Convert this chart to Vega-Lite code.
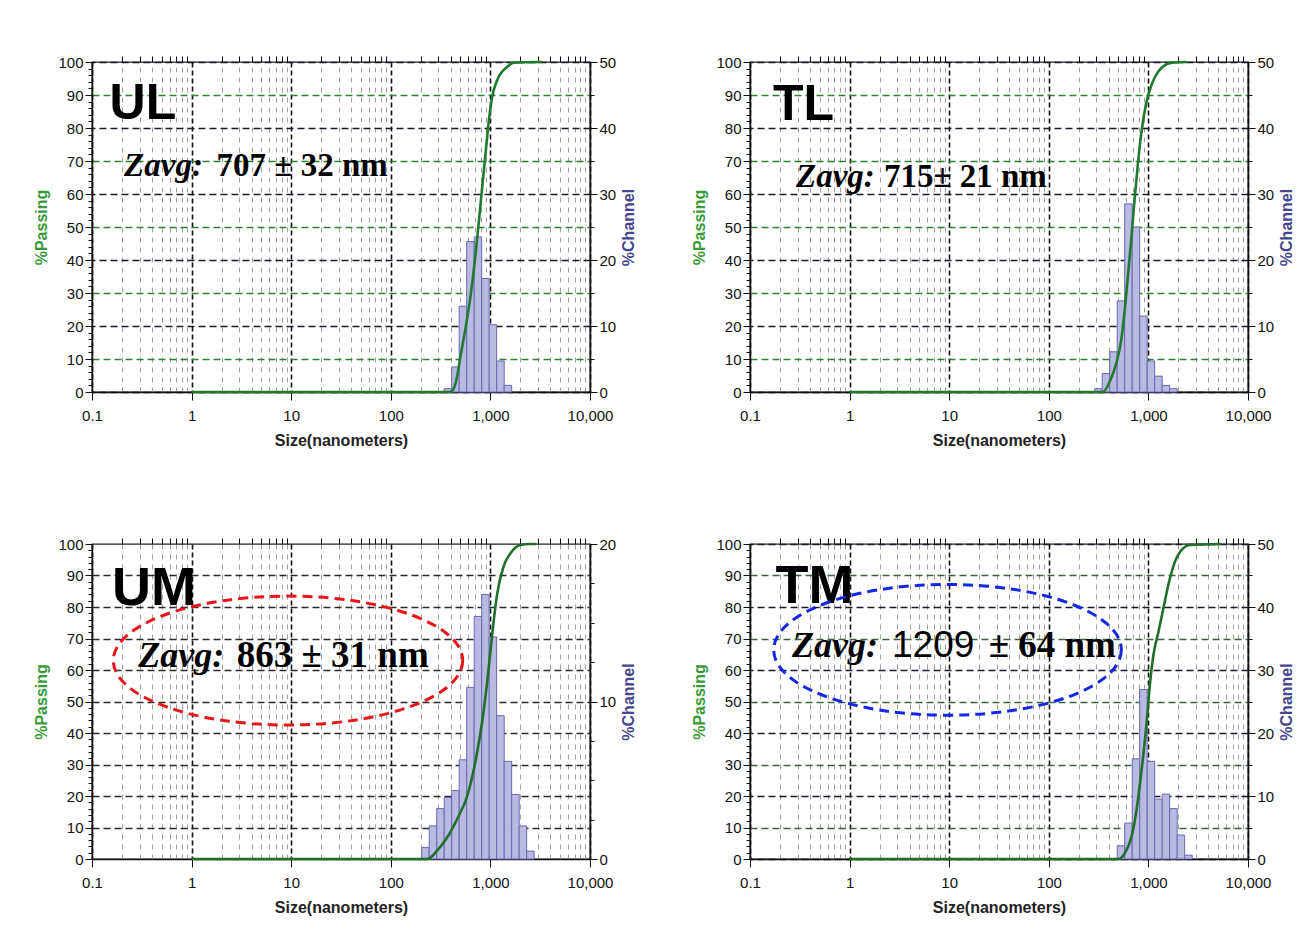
{
  "$schema": "https://vega.github.io/schema/vega-lite/v6.json",
  "background": "white",
  "padding": {"left": 33, "top": 54, "right": 5, "bottom": 5},
  "config": {
    "view": {"stroke": "#222", "strokeWidth": 1.3},
    "axis": {"labelFont": "Liberation Sans", "labelFontSize": 15, "labelColor": "#111", "domainColor": "#111", "domainWidth": 1.5, "tickColor": "#111", "titleFont": "Liberation Sans", "labelFlush": false, "labelOverlap": false}
  },
  "datasets": {
    "ul_bars": [
      {"lo": 343.7, "hi": 408.8, "ch": 0.5}, {"lo": 408.8, "hi": 486.1, "ch": 3.8}, {"lo": 486.1, "hi": 578.1, "ch": 13.0},
      {"lo": 578.1, "hi": 687.5, "ch": 22.8}, {"lo": 687.5, "hi": 817.6, "ch": 23.5}, {"lo": 817.6, "hi": 972.3, "ch": 17.2},
      {"lo": 972.3, "hi": 1156, "ch": 10.2}, {"lo": 1156, "hi": 1375, "ch": 4.7}, {"lo": 1375, "hi": 1635, "ch": 1.0}
    ],
    "ul_cum": [
      {"d": 1, "p": 0}, {"d": 400, "p": 0}, {"d": 450, "p": 3}, {"d": 500, "p": 10.7}, {"d": 574, "p": 20.9}, {"d": 645, "p": 31.1},
      {"d": 707, "p": 41.3}, {"d": 765, "p": 51.5}, {"d": 825, "p": 61.7}, {"d": 891, "p": 71.9}, {"d": 964, "p": 82.1},
      {"d": 1040, "p": 89.3}, {"d": 1167, "p": 94.4}, {"d": 1471, "p": 98.5}, {"d": 1717, "p": 99.8}, {"d": 3300, "p": 100}
    ],
    "tl_bars": [
      {"lo": 289.0, "hi": 343.7, "ch": 0.5}, {"lo": 343.7, "hi": 408.8, "ch": 2.8}, {"lo": 408.8, "hi": 486.1, "ch": 6.1},
      {"lo": 486.1, "hi": 578.1, "ch": 13.8}, {"lo": 578.1, "hi": 687.5, "ch": 28.5}, {"lo": 687.5, "hi": 817.6, "ch": 25.0},
      {"lo": 817.6, "hi": 972.3, "ch": 11.5}, {"lo": 972.3, "hi": 1156, "ch": 4.7}, {"lo": 1156, "hi": 1375, "ch": 2.4},
      {"lo": 1375, "hi": 1635, "ch": 1.0}, {"lo": 1635, "hi": 1945, "ch": 0.5}
    ],
    "tl_cum": [
      {"d": 1, "p": 0}, {"d": 350, "p": 0}, {"d": 407, "p": 3}, {"d": 476, "p": 8.7}, {"d": 534, "p": 15.8}, {"d": 575, "p": 24},
      {"d": 622, "p": 35}, {"d": 672, "p": 46}, {"d": 725, "p": 58}, {"d": 783, "p": 69}, {"d": 845, "p": 78}, {"d": 942, "p": 87},
      {"d": 1072, "p": 93}, {"d": 1250, "p": 97}, {"d": 1514, "p": 99.3}, {"d": 1770, "p": 99.8}, {"d": 2400, "p": 100}
    ],
    "um_bars": [
      {"lo": 204.4, "hi": 243.1, "ch": 0.74}, {"lo": 243.1, "hi": 289.0, "ch": 2.1}, {"lo": 289.0, "hi": 343.7, "ch": 3.2},
      {"lo": 343.7, "hi": 408.8, "ch": 3.9}, {"lo": 408.8, "hi": 486.1, "ch": 4.35}, {"lo": 486.1, "hi": 578.1, "ch": 6.3},
      {"lo": 578.1, "hi": 687.5, "ch": 10.9}, {"lo": 687.5, "hi": 817.6, "ch": 15.4}, {"lo": 817.6, "hi": 972.3, "ch": 16.8},
      {"lo": 972.3, "hi": 1156, "ch": 14.1}, {"lo": 1156, "hi": 1375, "ch": 9.1}, {"lo": 1375, "hi": 1635, "ch": 6.2},
      {"lo": 1635, "hi": 1945, "ch": 4.1}, {"lo": 1945, "hi": 2312, "ch": 2.1}, {"lo": 2312, "hi": 2750, "ch": 0.5}
    ],
    "um_cum": [
      {"d": 1, "p": 0}, {"d": 233, "p": 0}, {"d": 293, "p": 2.7}, {"d": 369, "p": 6.9}, {"d": 464, "p": 12.7}, {"d": 585, "p": 20},
      {"d": 708, "p": 31}, {"d": 826, "p": 43.5}, {"d": 927, "p": 56}, {"d": 1040, "p": 71}, {"d": 1167, "p": 84},
      {"d": 1359, "p": 93}, {"d": 1585, "p": 97}, {"d": 1995, "p": 99.7}, {"d": 2512, "p": 100}, {"d": 2900, "p": 100}
    ],
    "tm_bars": [
      {"lo": 486.1, "hi": 578.1, "ch": 2.1}, {"lo": 578.1, "hi": 687.5, "ch": 5.7}, {"lo": 687.5, "hi": 817.6, "ch": 15.9},
      {"lo": 817.6, "hi": 972.3, "ch": 26.9}, {"lo": 972.3, "hi": 1156, "ch": 15.5}, {"lo": 1156, "hi": 1375, "ch": 9.5},
      {"lo": 1375, "hi": 1635, "ch": 10.3}, {"lo": 1635, "hi": 1945, "ch": 8.0}, {"lo": 1945, "hi": 2312, "ch": 3.8},
      {"lo": 2312, "hi": 2750, "ch": 0.6}
    ],
    "tm_cum": [
      {"d": 1, "p": 0}, {"d": 501, "p": 0}, {"d": 584, "p": 2}, {"d": 681, "p": 7.4}, {"d": 764, "p": 16}, {"d": 857, "p": 28.6},
      {"d": 962, "p": 43.5}, {"d": 1039, "p": 56}, {"d": 1122, "p": 64.7}, {"d": 1259, "p": 72}, {"d": 1413, "p": 79.5},
      {"d": 1585, "p": 87}, {"d": 1849, "p": 94.4}, {"d": 2228, "p": 98.6}, {"d": 2606, "p": 99.7}, {"d": 5400, "p": 100}
    ]
  },
  "concat": [
    {
      "width": 498, "height": 330,
      "resolve": {"scale": {"y": "independent"}, "axis": {"x": "independent", "y": "independent"}},
      "layer": [
        {
          "data": {"name": "ul_bars"},
          "mark": {"type": "bar", "fill": "#b9b9e2", "stroke": "#6868b2", "strokeWidth": 1},
          "encoding": {
            "x": {"field": "lo", "type": "quantitative", "scale": {"type": "log", "domain": [0.1, 10000], "nice": false},
              "axis": {"values": [0.1, 1, 10, 100, 1000, 10000], "format": ",", "grid": true, "gridColor": "#111", "gridDash": [5, 3], "gridWidth": 1.6, "tickSize": 8, "labelPadding": 8, "title": "Size(nanometers)", "titleFontSize": 16, "titleFontWeight": "bold", "titlePadding": 9, "titleColor": "#222"}},
            "x2": {"field": "hi"},
            "y": {"field": "ch", "type": "quantitative", "scale": {"domain": [0, 50], "nice": false},
              "axis": {"orient": "right", "values": [0, 10, 20, 30, 40, 50], "grid": true, "gridColor": "#1a1a2a", "gridDash": [7, 4], "gridWidth": 1.6, "tickSize": 7, "labelPadding": 2, "title": "%Channel", "titleAngle": 270, "titleBaseline": "top", "titleColor": "#45458f", "titleFontSize": 16, "titleFontWeight": "bold", "titlePadding": 5}},
            "y2": {"datum": 0}
          }
        },
        {
          "data": {"name": "ul_cum"},
          "mark": {"type": "line", "color": "#1f7a2e", "strokeWidth": 2.6, "interpolate": "monotone"},
          "encoding": {
            "x": {"field": "d", "type": "quantitative", "scale": {"type": "log", "domain": [0.1, 10000], "nice": false},
              "axis": {"values": [0.2, 0.3, 0.4, 0.5, 0.6, 0.7, 0.8, 0.9, 2, 3, 4, 5, 6, 7, 8, 9, 20, 30, 40, 50, 60, 70, 80, 90, 200, 300, 400, 500, 600, 700, 800, 900, 2000, 3000, 4000, 5000, 6000, 7000, 8000, 9000], "grid": true, "gridColor": "#a0a0a0", "gridDash": [5, 5], "gridWidth": 1, "labels": false, "domain": false, "tickSize": 6, "title": null}},
            "y": {"field": "p", "type": "quantitative", "scale": {"domain": [0, 100], "nice": false},
              "axis": {"orient": "left", "values": [0, 10, 20, 30, 40, 50, 60, 70, 80, 90, 100], "grid": false, "tickSize": 7, "labelPadding": 2, "title": "%Passing", "titleColor": "#3a9a3a", "titleFontSize": 16, "titleFontWeight": "bold", "titlePadding": 8}}
          }
        },
        {
          "data": {"values": [{"t": "UL"}]},
          "mark": {"type": "text", "align": "left", "baseline": "alphabetic", "font": "Liberation Sans", "fontWeight": "bold", "fontSize": 50, "color": "#000"},
          "encoding": {
            "x": {"datum": 0.15, "type": "quantitative", "scale": {"type": "log", "domain": [0.1, 10000], "nice": false}, "axis": null},
            "y": {"datum": 82.7, "type": "quantitative", "scale": {"domain": [0, 100], "nice": false},
              "axis": {"orient": "left", "values": [10, 30, 50, 70, 90], "grid": true, "gridColor": "#2f802f", "gridDash": [7, 4], "gridWidth": 1.6, "ticks": false, "labels": false, "domain": false, "title": null}},
            "text": {"field": "t"}
          }
        },
        {
          "data": {"values": [{"t": "Zavg:"}]},
          "mark": {"type": "text", "align": "left", "baseline": "alphabetic", "font": "Liberation Serif", "fontWeight": "bold", "fontStyle": "italic", "fontSize": 33, "color": "#000"},
          "encoding": {
            "x": {"datum": 0.21, "type": "quantitative", "scale": {"type": "log", "domain": [0.1, 10000], "nice": false}, "axis": null},
            "y": {"datum": 65.5, "type": "quantitative", "scale": {"domain": [0, 100], "nice": false},
              "axis": {"orient": "left", "values": [0, 2, 4, 6, 8, 10, 12, 14, 16, 18, 20, 22, 24, 26, 28, 30, 32, 34, 36, 38, 40, 42, 44, 46, 48, 50, 52, 54, 56, 58, 60, 62, 64, 66, 68, 70, 72, 74, 76, 78, 80, 82, 84, 86, 88, 90, 92, 94, 96, 98, 100], "grid": false, "labels": false, "domain": false, "tickSize": 4, "title": null}},
            "text": {"field": "t"}
          }
        },
        {
          "data": {"values": [{"t": "707 ± 32 nm"}]},
          "mark": {"type": "text", "align": "left", "baseline": "alphabetic", "font": "Liberation Serif", "fontWeight": "bold", "fontSize": 33, "color": "#000"},
          "encoding": {
            "x": {"datum": 1.78, "type": "quantitative", "scale": {"type": "log", "domain": [0.1, 10000], "nice": false}, "axis": null},
            "y": {"datum": 32.75, "type": "quantitative", "scale": {"domain": [0, 50], "nice": false},
              "axis": {"orient": "right", "values": [5, 15, 25, 35, 45], "grid": false, "labels": false, "domain": false, "tickSize": 4, "title": null}},
            "text": {"field": "t"}
          }
        }
      ]
    },
    {
      "width": 498, "height": 330,
      "resolve": {"scale": {"y": "independent"}, "axis": {"x": "independent", "y": "independent"}},
      "layer": [
        {
          "data": {"name": "tl_bars"},
          "mark": {"type": "bar", "fill": "#b9b9e2", "stroke": "#6868b2", "strokeWidth": 1},
          "encoding": {
            "x": {"field": "lo", "type": "quantitative", "scale": {"type": "log", "domain": [0.1, 10000], "nice": false},
              "axis": {"values": [0.1, 1, 10, 100, 1000, 10000], "format": ",", "grid": true, "gridColor": "#111", "gridDash": [5, 3], "gridWidth": 1.6, "tickSize": 8, "labelPadding": 8, "title": "Size(nanometers)", "titleFontSize": 16, "titleFontWeight": "bold", "titlePadding": 9, "titleColor": "#222"}},
            "x2": {"field": "hi"},
            "y": {"field": "ch", "type": "quantitative", "scale": {"domain": [0, 50], "nice": false},
              "axis": {"orient": "right", "values": [0, 10, 20, 30, 40, 50], "grid": true, "gridColor": "#1a1a2a", "gridDash": [7, 4], "gridWidth": 1.6, "tickSize": 7, "labelPadding": 2, "title": "%Channel", "titleAngle": 270, "titleBaseline": "top", "titleColor": "#45458f", "titleFontSize": 16, "titleFontWeight": "bold", "titlePadding": 5}},
            "y2": {"datum": 0}
          }
        },
        {
          "data": {"name": "tl_cum"},
          "mark": {"type": "line", "color": "#1f7a2e", "strokeWidth": 2.6, "interpolate": "monotone"},
          "encoding": {
            "x": {"field": "d", "type": "quantitative", "scale": {"type": "log", "domain": [0.1, 10000], "nice": false},
              "axis": {"values": [0.2, 0.3, 0.4, 0.5, 0.6, 0.7, 0.8, 0.9, 2, 3, 4, 5, 6, 7, 8, 9, 20, 30, 40, 50, 60, 70, 80, 90, 200, 300, 400, 500, 600, 700, 800, 900, 2000, 3000, 4000, 5000, 6000, 7000, 8000, 9000], "grid": true, "gridColor": "#a0a0a0", "gridDash": [5, 5], "gridWidth": 1, "labels": false, "domain": false, "tickSize": 6, "title": null}},
            "y": {"field": "p", "type": "quantitative", "scale": {"domain": [0, 100], "nice": false},
              "axis": {"orient": "left", "values": [0, 10, 20, 30, 40, 50, 60, 70, 80, 90, 100], "grid": false, "tickSize": 7, "labelPadding": 2, "title": "%Passing", "titleColor": "#3a9a3a", "titleFontSize": 16, "titleFontWeight": "bold", "titlePadding": 8}}
          }
        },
        {
          "data": {"values": [{"t": "TL"}]},
          "mark": {"type": "text", "align": "left", "baseline": "alphabetic", "font": "Liberation Sans", "fontWeight": "bold", "fontSize": 50, "color": "#000"},
          "encoding": {
            "x": {"datum": 0.17, "type": "quantitative", "scale": {"type": "log", "domain": [0.1, 10000], "nice": false}, "axis": null},
            "y": {"datum": 82.4, "type": "quantitative", "scale": {"domain": [0, 100], "nice": false},
              "axis": {"orient": "left", "values": [10, 30, 50, 70, 90], "grid": true, "gridColor": "#2f802f", "gridDash": [7, 4], "gridWidth": 1.6, "ticks": false, "labels": false, "domain": false, "title": null}},
            "text": {"field": "t"}
          }
        },
        {
          "data": {"values": [{"t": "Zavg:"}]},
          "mark": {"type": "text", "align": "left", "baseline": "alphabetic", "font": "Liberation Serif", "fontWeight": "bold", "fontStyle": "italic", "fontSize": 33, "color": "#000"},
          "encoding": {
            "x": {"datum": 0.29, "type": "quantitative", "scale": {"type": "log", "domain": [0.1, 10000], "nice": false}, "axis": null},
            "y": {"datum": 62, "type": "quantitative", "scale": {"domain": [0, 100], "nice": false},
              "axis": {"orient": "left", "values": [0, 2, 4, 6, 8, 10, 12, 14, 16, 18, 20, 22, 24, 26, 28, 30, 32, 34, 36, 38, 40, 42, 44, 46, 48, 50, 52, 54, 56, 58, 60, 62, 64, 66, 68, 70, 72, 74, 76, 78, 80, 82, 84, 86, 88, 90, 92, 94, 96, 98, 100], "grid": false, "labels": false, "domain": false, "tickSize": 4, "title": null}},
            "text": {"field": "t"}
          }
        },
        {
          "data": {"values": [{"t": "715± 21 nm"}]},
          "mark": {"type": "text", "align": "left", "baseline": "alphabetic", "font": "Liberation Serif", "fontWeight": "bold", "fontSize": 33, "color": "#000"},
          "encoding": {
            "x": {"datum": 2.21, "type": "quantitative", "scale": {"type": "log", "domain": [0.1, 10000], "nice": false}, "axis": null},
            "y": {"datum": 31, "type": "quantitative", "scale": {"domain": [0, 50], "nice": false},
              "axis": {"orient": "right", "values": [5, 15, 25, 35, 45], "grid": false, "labels": false, "domain": false, "tickSize": 4, "title": null}},
            "text": {"field": "t"}
          }
        }
      ]
    },
    {
      "width": 498, "height": 315,
      "resolve": {"scale": {"y": "independent"}, "axis": {"x": "independent", "y": "independent"}},
      "layer": [
        {
          "data": {"name": "um_bars"},
          "mark": {"type": "bar", "fill": "#b9b9e2", "stroke": "#6868b2", "strokeWidth": 1},
          "encoding": {
            "x": {"field": "lo", "type": "quantitative", "scale": {"type": "log", "domain": [0.1, 10000], "nice": false},
              "axis": {"values": [0.1, 1, 10, 100, 1000, 10000], "format": ",", "grid": true, "gridColor": "#111", "gridDash": [5, 3], "gridWidth": 1.6, "tickSize": 8, "labelPadding": 8, "title": "Size(nanometers)", "titleFontSize": 16, "titleFontWeight": "bold", "titlePadding": 9, "titleColor": "#222"}},
            "x2": {"field": "hi"},
            "y": {"field": "ch", "type": "quantitative", "scale": {"domain": [0, 20], "nice": false},
              "axis": {"orient": "right", "values": [0, 10, 20], "grid": false, "tickSize": 7, "labelPadding": 2, "title": "%Channel", "titleAngle": 270, "titleBaseline": "top", "titleColor": "#45458f", "titleFontSize": 16, "titleFontWeight": "bold", "titlePadding": 5}},
            "y2": {"datum": 0}
          }
        },
        {
          "data": {"name": "um_cum"},
          "mark": {"type": "line", "color": "#1f6e2a", "strokeWidth": 2.6, "interpolate": "monotone"},
          "encoding": {
            "x": {"field": "d", "type": "quantitative", "scale": {"type": "log", "domain": [0.1, 10000], "nice": false},
              "axis": {"values": [0.2, 0.3, 0.4, 0.5, 0.6, 0.7, 0.8, 0.9, 2, 3, 4, 5, 6, 7, 8, 9, 20, 30, 40, 50, 60, 70, 80, 90, 200, 300, 400, 500, 600, 700, 800, 900, 2000, 3000, 4000, 5000, 6000, 7000, 8000, 9000], "grid": true, "gridColor": "#a0a0a0", "gridDash": [5, 5], "gridWidth": 1, "labels": false, "domain": false, "tickSize": 6, "title": null}},
            "y": {"field": "p", "type": "quantitative", "scale": {"domain": [0, 100], "nice": false},
              "axis": {"orient": "left", "values": [0, 10, 20, 30, 40, 50, 60, 70, 80, 90, 100], "grid": false, "tickSize": 7, "labelPadding": 2, "title": "%Passing", "titleColor": "#3a9a3a", "titleFontSize": 16, "titleFontWeight": "bold", "titlePadding": 8}}
          }
        },
        {
          "data": {"values": [{"t": "UM"}]},
          "mark": {"type": "text", "align": "left", "baseline": "alphabetic", "font": "Liberation Sans", "fontWeight": "bold", "fontSize": 54, "color": "#000"},
          "encoding": {
            "x": {"datum": 0.159, "type": "quantitative", "scale": {"type": "log", "domain": [0.1, 10000], "nice": false}, "axis": null},
            "y": {"datum": 80.6, "type": "quantitative", "scale": {"domain": [0, 100], "nice": false},
              "axis": {"orient": "left", "values": [10, 20, 30, 40, 50, 60, 70, 80, 90], "grid": true, "gridColor": "#2a2a2a", "gridDash": [7, 4], "gridWidth": 1.6, "ticks": false, "labels": false, "domain": false, "title": null}},
            "text": {"field": "t"}
          }
        },
        {
          "data": {"values": [{"t": "Zavg:"}]},
          "mark": {"type": "text", "align": "left", "baseline": "alphabetic", "font": "Liberation Serif", "fontWeight": "bold", "fontStyle": "italic", "fontSize": 36, "color": "#000"},
          "encoding": {
            "x": {"datum": 0.292, "type": "quantitative", "scale": {"type": "log", "domain": [0.1, 10000], "nice": false}, "axis": null},
            "y": {"datum": 61, "type": "quantitative", "scale": {"domain": [0, 100], "nice": false},
              "axis": {"orient": "left", "values": [0, 2, 4, 6, 8, 10, 12, 14, 16, 18, 20, 22, 24, 26, 28, 30, 32, 34, 36, 38, 40, 42, 44, 46, 48, 50, 52, 54, 56, 58, 60, 62, 64, 66, 68, 70, 72, 74, 76, 78, 80, 82, 84, 86, 88, 90, 92, 94, 96, 98, 100], "grid": false, "labels": false, "domain": false, "tickSize": 4, "title": null}},
            "text": {"field": "t"}
          }
        },
        {
          "data": {"values": [{"t": "863 ± 31 nm"}]},
          "mark": {"type": "text", "align": "left", "baseline": "alphabetic", "font": "Liberation Serif", "fontWeight": "bold", "fontSize": 37, "color": "#000"},
          "encoding": {
            "x": {"datum": 2.84, "type": "quantitative", "scale": {"type": "log", "domain": [0.1, 10000], "nice": false}, "axis": null},
            "y": {"datum": 12.2, "type": "quantitative", "scale": {"domain": [0, 20], "nice": false},
              "axis": {"orient": "right", "values": [2.5, 5, 7.5, 12.5, 15, 17.5], "grid": false, "labels": false, "domain": false, "tickSize": 4, "title": null}},
            "text": {"field": "t"}
          }
        },
        {
          "data": {"values": [{"t": "ellipse"}]},
          "mark": {"type": "point", "shape": "M 1 0 C 1 0.2038 0.5523 0.369 0 0.369 C -0.5523 0.369 -1 0.2038 -1 0 C -1 -0.2038 -0.5523 -0.369 0 -0.369 C 0.5523 -0.369 1 -0.2038 1 0 Z", "filled": false, "stroke": "#e8161b", "strokeWidth": 3, "strokeDash": [10, 6], "size": 122080, "opacity": 1},
          "encoding": {
            "x": {"datum": 9.29, "type": "quantitative", "scale": {"type": "log", "domain": [0.1, 10000], "nice": false}, "axis": null},
            "y": {"datum": 63, "type": "quantitative", "scale": {"domain": [0, 100], "nice": false}, "axis": null}
          }
        }
      ]
    },
    {
      "width": 498, "height": 315,
      "resolve": {"scale": {"y": "independent"}, "axis": {"x": "independent", "y": "independent"}},
      "layer": [
        {
          "data": {"name": "tm_bars"},
          "mark": {"type": "bar", "fill": "#b9b9e2", "stroke": "#6868b2", "strokeWidth": 1},
          "encoding": {
            "x": {"field": "lo", "type": "quantitative", "scale": {"type": "log", "domain": [0.1, 10000], "nice": false},
              "axis": {"values": [0.1, 1, 10, 100, 1000, 10000], "format": ",", "grid": true, "gridColor": "#111", "gridDash": [5, 3], "gridWidth": 1.6, "tickSize": 8, "labelPadding": 8, "title": "Size(nanometers)", "titleFontSize": 16, "titleFontWeight": "bold", "titlePadding": 9, "titleColor": "#222"}},
            "x2": {"field": "hi"},
            "y": {"field": "ch", "type": "quantitative", "scale": {"domain": [0, 50], "nice": false},
              "axis": {"orient": "right", "values": [0, 10, 20, 30, 40, 50], "grid": true, "gridColor": "#1a1a2a", "gridDash": [7, 4], "gridWidth": 1.6, "tickSize": 7, "labelPadding": 2, "title": "%Channel", "titleAngle": 270, "titleBaseline": "top", "titleColor": "#45458f", "titleFontSize": 16, "titleFontWeight": "bold", "titlePadding": 5}},
            "y2": {"datum": 0}
          }
        },
        {
          "data": {"name": "tm_cum"},
          "mark": {"type": "line", "color": "#1f6e2a", "strokeWidth": 2.6, "interpolate": "monotone"},
          "encoding": {
            "x": {"field": "d", "type": "quantitative", "scale": {"type": "log", "domain": [0.1, 10000], "nice": false},
              "axis": {"values": [0.2, 0.3, 0.4, 0.5, 0.6, 0.7, 0.8, 0.9, 2, 3, 4, 5, 6, 7, 8, 9, 20, 30, 40, 50, 60, 70, 80, 90, 200, 300, 400, 500, 600, 700, 800, 900, 2000, 3000, 4000, 5000, 6000, 7000, 8000, 9000], "grid": true, "gridColor": "#a0a0a0", "gridDash": [5, 5], "gridWidth": 1, "labels": false, "domain": false, "tickSize": 6, "title": null}},
            "y": {"field": "p", "type": "quantitative", "scale": {"domain": [0, 100], "nice": false},
              "axis": {"orient": "left", "values": [0, 10, 20, 30, 40, 50, 60, 70, 80, 90, 100], "grid": false, "tickSize": 7, "labelPadding": 2, "title": "%Passing", "titleColor": "#3a9a3a", "titleFontSize": 16, "titleFontWeight": "bold", "titlePadding": 8}}
          }
        },
        {
          "data": {"values": [{"t": "TM"}]},
          "mark": {"type": "text", "align": "left", "baseline": "alphabetic", "font": "Liberation Sans", "fontWeight": "bold", "fontSize": 54, "color": "#000"},
          "encoding": {
            "x": {"datum": 0.18, "type": "quantitative", "scale": {"type": "log", "domain": [0.1, 10000], "nice": false}, "axis": null},
            "y": {"datum": 81.2, "type": "quantitative", "scale": {"domain": [0, 100], "nice": false},
              "axis": {"orient": "left", "values": [10, 30, 50, 70, 90], "grid": true, "gridColor": "#3f5f3f", "gridDash": [7, 4], "gridWidth": 1.6, "ticks": false, "labels": false, "domain": false, "title": null}},
            "text": {"field": "t"}
          }
        },
        {
          "data": {"values": [{"t": "Zavg:"}]},
          "mark": {"type": "text", "align": "left", "baseline": "alphabetic", "font": "Liberation Serif", "fontWeight": "bold", "fontStyle": "italic", "fontSize": 36, "color": "#000"},
          "encoding": {
            "x": {"datum": 0.264, "type": "quantitative", "scale": {"type": "log", "domain": [0.1, 10000], "nice": false}, "axis": null},
            "y": {"datum": 64.2, "type": "quantitative", "scale": {"domain": [0, 100], "nice": false},
              "axis": {"orient": "left", "values": [0, 2, 4, 6, 8, 10, 12, 14, 16, 18, 20, 22, 24, 26, 28, 30, 32, 34, 36, 38, 40, 42, 44, 46, 48, 50, 52, 54, 56, 58, 60, 62, 64, 66, 68, 70, 72, 74, 76, 78, 80, 82, 84, 86, 88, 90, 92, 94, 96, 98, 100], "grid": false, "labels": false, "domain": false, "tickSize": 4, "title": null}},
            "text": {"field": "t"}
          }
        },
        {
          "data": {"values": [{"t": "1209"}]},
          "mark": {"type": "text", "align": "left", "baseline": "alphabetic", "font": "Liberation Sans", "fontSize": 37, "color": "#000"},
          "encoding": {
            "x": {"datum": 2.666, "type": "quantitative", "scale": {"type": "log", "domain": [0.1, 10000], "nice": false}, "axis": null},
            "y": {"datum": 32.1, "type": "quantitative", "scale": {"domain": [0, 50], "nice": false},
              "axis": {"orient": "right", "values": [5, 15, 25, 35, 45], "grid": false, "labels": false, "domain": false, "tickSize": 4, "title": null}},
            "text": {"field": "t"}
          }
        },
        {
          "data": {"values": [{"t": "± 64 nm"}]},
          "mark": {"type": "text", "align": "left", "baseline": "alphabetic", "font": "Liberation Serif", "fontWeight": "bold", "fontSize": 37, "color": "#000"},
          "encoding": {
            "x": {"datum": 24.9, "type": "quantitative", "scale": {"type": "log", "domain": [0.1, 10000], "nice": false}, "axis": null},
            "y": {"datum": 64.2, "type": "quantitative", "scale": {"domain": [0, 100], "nice": false}, "axis": null},
            "text": {"field": "t"}
          }
        },
        {
          "data": {"values": [{"t": "ellipse"}]},
          "mark": {"type": "point", "shape": "M 1 0 C 1 0.2077 0.5523 0.376 0 0.376 C -0.5523 0.376 -1 0.2077 -1 0 C -1 -0.2077 -0.5523 -0.376 0 -0.376 C 0.5523 -0.376 1 -0.2077 1 0 Z", "filled": false, "stroke": "#1426e6", "strokeWidth": 3, "strokeDash": [10, 6], "size": 120826, "opacity": 1},
          "encoding": {
            "x": {"datum": 9.62, "type": "quantitative", "scale": {"type": "log", "domain": [0.1, 10000], "nice": false}, "axis": null},
            "y": {"datum": 66.4, "type": "quantitative", "scale": {"domain": [0, 100], "nice": false}, "axis": null}
          }
        }
      ]
    }
  ],
  "columns": 2,
  "spacing": {"row": 152, "column": 160},
  "bounds": "flush"
}
